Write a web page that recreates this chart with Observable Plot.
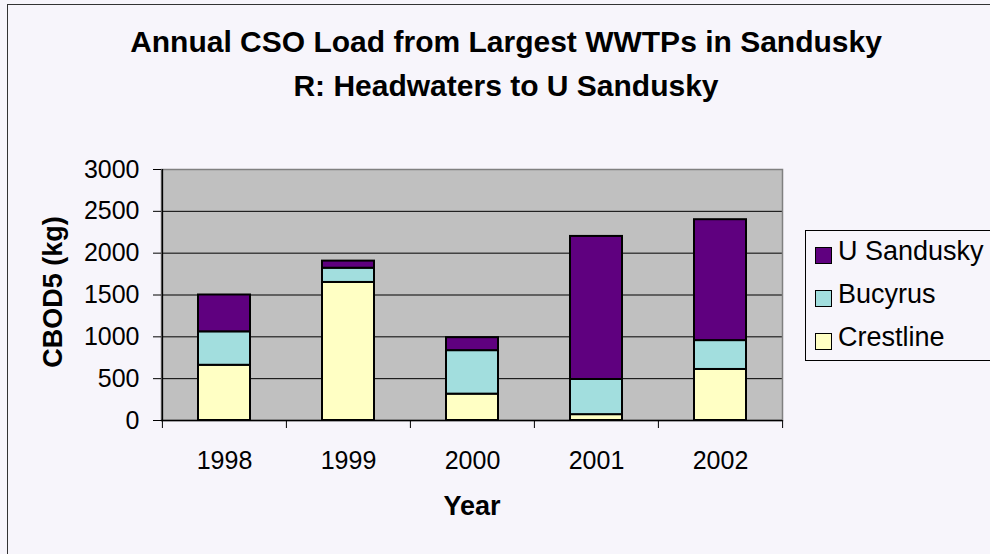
<!DOCTYPE html>
<html>
<head>
<meta charset="utf-8">
<script src="https://cdn.jsdelivr.net/npm/d3@7"></script>
<script src="https://cdn.jsdelivr.net/npm/@observablehq/plot@0.6"></script>
<style>
  html, body { margin: 0; padding: 0; background: #f7f5fb; overflow: hidden; }
  #wrap { position: relative; width: 990px; height: 554px; overflow: hidden; background: #f7f5fb;
          font-family: 'Liberation Sans', Arial, Helvetica, sans-serif; color: #000; }
  #wrap svg { position: absolute; left: 0; top: 0; }
  .abs { position: absolute; white-space: nowrap; line-height: 1; }
  .title { font-weight: bold; font-size: 30px; left: 0; width: 1012px; text-align: center; }
  #border { position: absolute; left: 7px; top: 4px; width: 1200px; height: 800px;
            border-left: 1px solid #333; border-top: 1px solid #333; }
  #legend { position: absolute; left: 805px; top: 230px; width: 300px; height: 131px;
            border: 1px solid #000; box-sizing: border-box; }
  .sw { position: absolute; width: 17px; height: 17px; box-sizing: border-box; border: 1.5px solid #000; }
  .lt { position: absolute; font-size: 27px; line-height: 1; white-space: nowrap; }
</style>
</head>
<body>
<div id="wrap">
  <div id="border"></div>
</div>
<script>
// ---- data ----
const years = ["1998", "1999", "2000", "2001", "2002"];
const seriesNames = ["Crestline", "Bucyrus", "U Sandusky"]; // stacking order, bottom to top
const crestline = [660, 1650, 315, 70, 610];
const bucyrus   = [400, 170, 520, 420, 345];
const uSandusky = [440, 85, 155, 1710, 1445];
const yTicks = [0, 500, 1000, 1500, 2000, 2500, 3000];
const legendOrder = ["U Sandusky", "Bucyrus", "Crestline"];
const seriesColors = ["#ffffc4", "#a2dede", "#5f007f"];
const titleLines = ["Annual CSO Load from Largest WWTPs in Sandusky", "R: Headwaters to U Sandusky"];
const yLabel = "CBOD5 (kg)";
const xLabel = "Year";

const valuesBySeries = [crestline, bucyrus, uSandusky];
const table = years.flatMap((year, i) =>
  seriesNames.map((s, k) => ({year, series: s, value: valuesBySeries[k][i]})));

// ---- layout ----
const W = 990, H = 554;
const mL = 161, mR = 208, mT = 169, mB = 134;
const bw = (W - mL - mR) / years.length;

const plot = Plot.plot({
  width: W, height: H,
  marginLeft: mL, marginRight: mR, marginTop: mT, marginBottom: mB,
  style: {background: "transparent", fontFamily: "'Liberation Sans', Arial, sans-serif", fontSize: "25px", color: "black", overflow: "visible"},
  x: {domain: years, padding: 0, label: null},
  y: {domain: [0, 3000], label: null},
  color: {domain: seriesNames, range: seriesColors},
  marks: [
    Plot.frame({fill: "#c0c0c0", stroke: null}),
    Plot.gridY(yTicks.slice(1, -1), {stroke: "black", strokeOpacity: 1, strokeWidth: 1}),
    Plot.frame({stroke: "#808080", strokeWidth: 1.5}),
    Plot.ruleY([0], {stroke: "black", strokeWidth: 1.5}),
    Plot.ruleX([years[0]], {dx: -bw / 2, stroke: "black", strokeWidth: 1.5}),
    Plot.axisY(yTicks, {tickSize: 8, tickPadding: 14, fontSize: 25, label: null, stroke: "black",
                        tickFormat: d => String(d)}),
    Plot.axisX(years, {tickSize: 0, tickPadding: 31, fontSize: 25, label: null}),
    Plot.axisX(years, {tickSize: 8, text: null, dx: -bw / 2, label: null, stroke: "black"}),
    Plot.axisX([years[years.length - 1]], {tickSize: 8, text: null, dx: bw / 2, label: null, stroke: "black"}),
    Plot.barY(table, {x: "year", y: "value", fill: "series", stroke: "black", strokeWidth: 2,
                      insetLeft: 36, insetRight: 36})
  ]
});

const wrap = document.getElementById("wrap");
wrap.appendChild(plot);

// ---- titles ----
const asc = 0.8465;
titleLines.forEach((t, i) => {
  const d = document.createElement("div");
  d.className = "abs title";
  d.textContent = t;
  d.style.top = ([52, 96][i] - asc * 30) + "px";
  wrap.appendChild(d);
});

// y label
const yl = document.createElement("div");
yl.className = "abs";
yl.textContent = yLabel;
Object.assign(yl.style, {fontWeight: "bold", fontSize: "27px", left: "53px", top: "292px",
  transform: "translate(-50%, -50%) rotate(-90deg)"});
wrap.appendChild(yl);

// x label
const xl = document.createElement("div");
xl.className = "abs";
xl.textContent = xLabel;
Object.assign(xl.style, {fontWeight: "bold", fontSize: "27px", left: "472px", top: (516 - asc * 27) + "px",
  transform: "translateX(-50%)"});
wrap.appendChild(xl);

// ---- legend ----
const color = plot.scale("color");
const leg = document.createElement("div");
leg.id = "legend";
legendOrder.forEach((name, i) => {
  const c = color.range[color.domain.indexOf(name)];
  const sw = document.createElement("div");
  sw.className = "sw";
  sw.style.background = c;
  sw.style.left = (815 - 805 - 1) + "px";
  sw.style.top = (247 + i * 43 - 230 - 1) + "px";
  leg.appendChild(sw);
  const t = document.createElement("div");
  t.className = "lt";
  t.textContent = name;
  t.style.left = (838 - 805 - 1) + "px";
  t.style.top = (261 + i * 43 - asc * 27 - 230 - 1) + "px";
  leg.appendChild(t);
});
wrap.appendChild(leg);
</script>
</body>
</html>
